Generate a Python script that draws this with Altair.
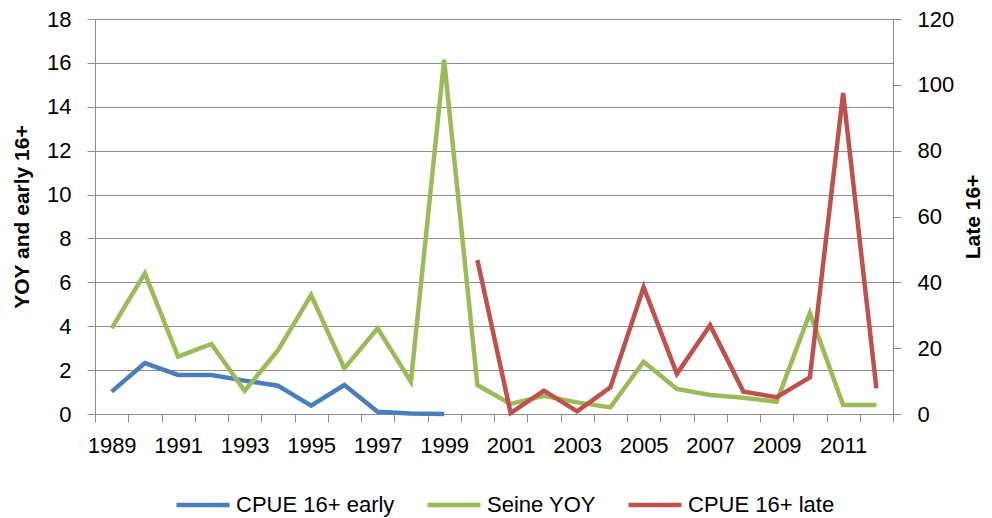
import altair as alt
import pandas as pd

years = list(range(1989, 2013))
early_years = list(range(1989, 2000))
early = [1.02, 2.32, 1.78, 1.78, 1.52, 1.29, 0.38, 1.32, 0.10, 0.02, 0.0]
seine = [3.9, 6.41, 2.61, 3.19, 1.06, 2.9, 5.42, 2.08, 3.9, 1.47, 16.14, 1.32,
         0.46, 0.83, 0.53, 0.3, 2.38, 1.14, 0.87, 0.74, 0.56, 4.6, 0.41, 0.41]
late_years = list(range(2000, 2013))
late = [46.8, 0.3, 7.1, 0.8, 8.1, 38.5, 12.2, 27.0, 6.8, 5.1, 11.1, 97.5, 7.8]

series_names = ["CPUE 16+ early", "Seine YOY", "CPUE 16+ late"]
series_colors = ["#4A7EBB", "#9BBB59", "#C0504D"]

left_df = pd.concat([
    pd.DataFrame({"year": early_years, "value": early, "series": series_names[0]}),
    pd.DataFrame({"year": years, "value": seine, "series": series_names[1]}),
])
right_df = pd.DataFrame({"year": late_years, "value": late, "series": series_names[2]})

FONT = "Liberation Sans"
GRID = "#8c8c8c"
FS = 22

x_enc = alt.X(
    "year:O",
    scale=alt.Scale(type="band", paddingInner=0, paddingOuter=0, domain=years),
    axis=alt.Axis(
        title=None,
        labelAngle=0,
        labelExpr="datum.value % 2 == 1 ? datum.label : ''",
        tickBand="extent",
        tickColor=GRID,
        domainColor=GRID,
        tickSize=8,
        labelPadding=13,
        labelFontSize=FS,
        labelColor="black",
        labelOverlap=False,
    ),
)

color_enc = alt.Color(
    "series:N",
    scale=alt.Scale(domain=series_names, range=series_colors),
    legend=alt.Legend(
        title=None,
        orient="none",
        legendX=79,
        legendY=473,
        direction="horizontal",
        symbolType="stroke",
        symbolStrokeWidth=4.5,
        symbolSize=2809,
        clipHeight=26,
        labelOffset=4,
        labelFontSize=FS,
        labelColor="black",
        columnPadding=30,
    ),
)

left = alt.Chart(left_df).mark_line(strokeWidth=4.5).encode(
    x=x_enc,
    y=alt.Y(
        "value:Q",
        scale=alt.Scale(domain=[0, 18], nice=False),
        axis=alt.Axis(
            title="YOY and early 16+",
            titleFontSize=21,
            titleFontWeight="bold",
            titleColor="black",
            values=list(range(0, 19, 2)),
            labelFontSize=FS,
            labelColor="black",
            gridColor=GRID,
            gridWidth=1.2,
            domainColor=GRID,
            tickColor=GRID,
            tickSize=8,
            labelPadding=16,
            titlePadding=14,
        ),
    ),
    color=color_enc,
    detail="series:N",
)

right = alt.Chart(right_df).mark_line(strokeWidth=4.5).encode(
    x=x_enc,
    y=alt.Y(
        "value:Q",
        scale=alt.Scale(domain=[0, 120], nice=False),
        axis=alt.Axis(
            title="Late 16+",
            orient="right",
            titleFontSize=21,
            titleFontWeight="bold",
            titleColor="black",
            titleAngle=270,
            values=list(range(0, 121, 20)),
            labelFontSize=FS,
            labelColor="black",
            grid=False,
            domainColor=GRID,
            tickColor=GRID,
            tickSize=8,
            labelPadding=16,
            titlePadding=30,
        ),
    ),
    color=color_enc,
)

chart = alt.layer(left, right).resolve_scale(y="independent").properties(
    width=798, height=395,
    padding={"left": 3, "top": 0, "right": 0, "bottom": 0},
).configure_view(stroke=None).configure(font=FONT)

chart.save("out.html", embed_options={"renderer": "svg", "actions": False})
